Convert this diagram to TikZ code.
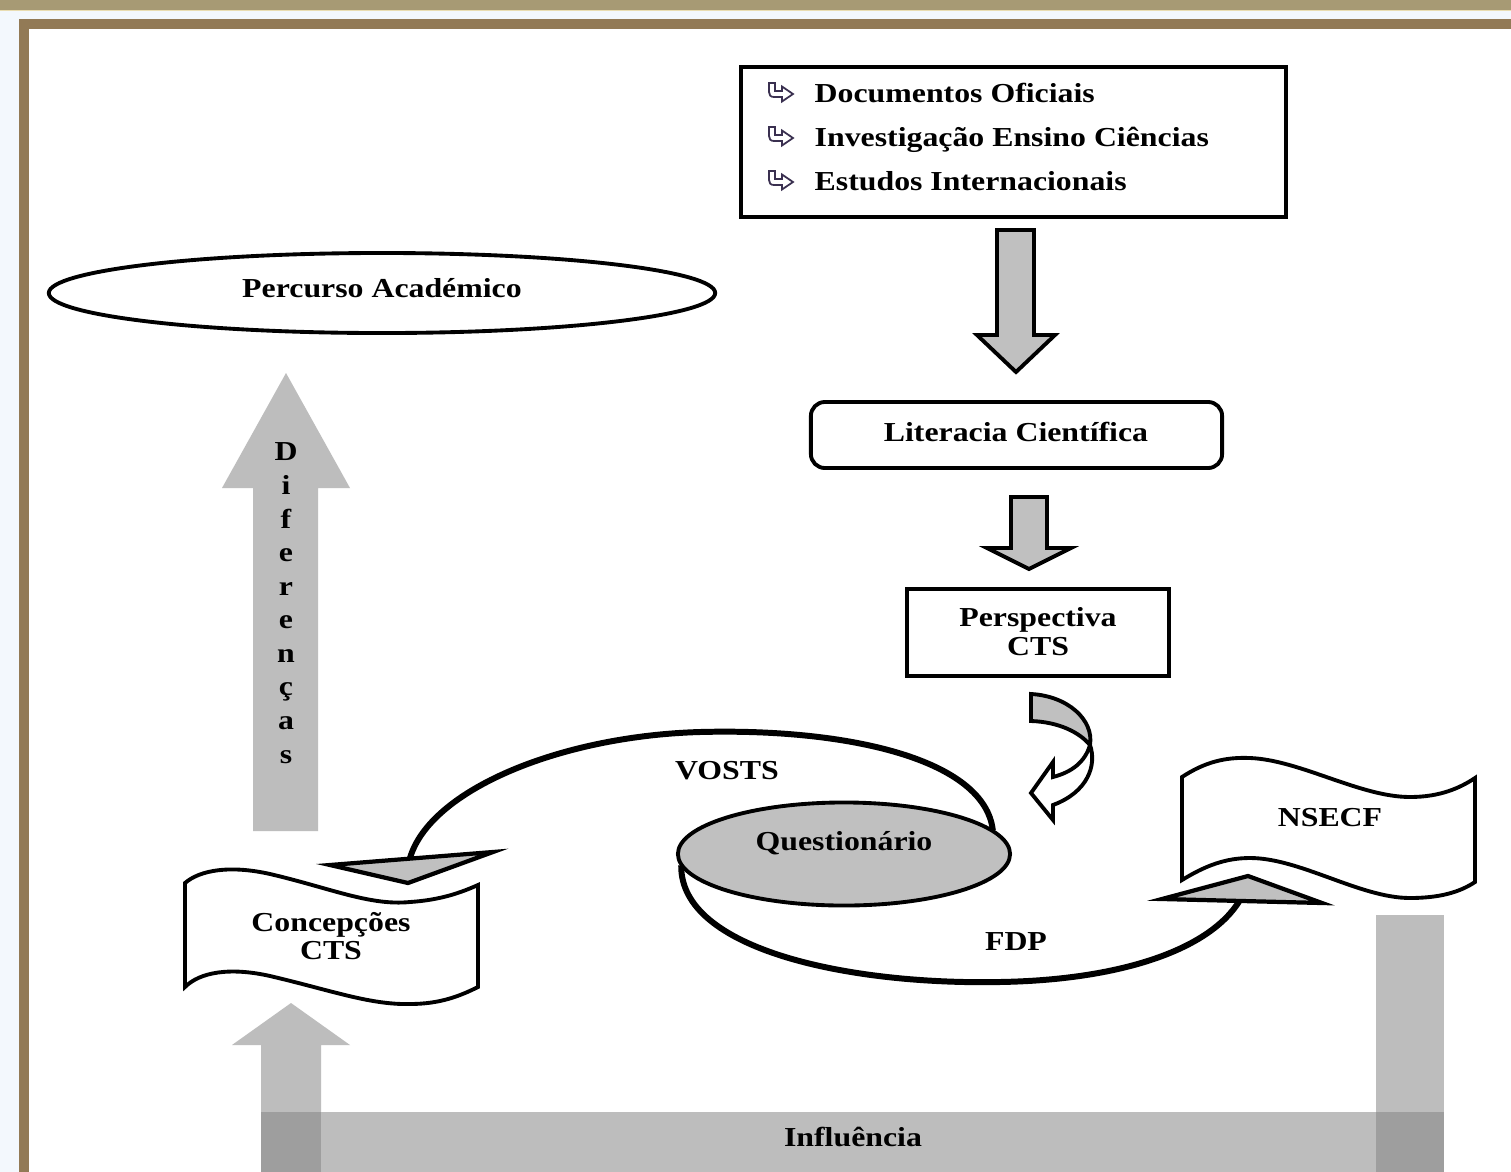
\documentclass[tikz,border=0pt]{standalone}
\usepackage{fontspec}
\setmainfont{Liberation Serif}[FakeStretch=1.16]
\usetikzlibrary{shapes.geometric}
\definecolor{tanband}{HTML}{A79A74}
\definecolor{lightyel}{HTML}{E9DDB2}
\definecolor{paleblue}{HTML}{F3F8FD}
\definecolor{framebrown}{HTML}{927A56}
\definecolor{boxgray}{HTML}{C0C0C0}
\definecolor{lightbar}{HTML}{BDBDBD}
\definecolor{darkbar}{HTML}{9E9E9E}
\definecolor{bulletink}{HTML}{3A3050}
\tikzset{
  lbl/.style={font=\fontsize{7.8pt}{9.4pt}\selectfont\bfseries, inner sep=0pt, anchor=base},
  blockarrow/.style={fill=boxgray, draw=black, line width=1.1pt, line join=miter},
  looparc/.style={draw=black, line width=1.7pt},
  tipshape/.style={fill=boxgray, draw=black, line width=1.2pt, line join=miter},
  bannershape/.style={fill=white, draw=black, line width=1.1pt},
  hookbullet/.pic={
    \draw[bulletink, fill=white, line width=0.5pt, line join=miter]
      (0,0) -- (6,0) -- (6,8) -- (13,8) -- (13,3.5) -- (24,11) -- (13,18.5) -- (13,14) -- (5,14)
      .. controls (1.5,14) and (0,12) .. (0,9) -- cycle;
  }
}
\begin{document}
\begin{tikzpicture}[x=0.01cm, y=-0.01cm]
\useasboundingbox (0,0) rectangle (1511,1172);
% background and frame
\fill[paleblue] (0,0) rectangle (1511,1172);
\fill[tanband] (0,0) rectangle (1511,9.5);
\fill[lightyel] (0,9.5) rectangle (1511,11);
\fill[white] (28.7,28.7) rectangle (1511,1172);
\fill[framebrown] (19.3,19.3) rectangle (1511,28.7);
\fill[framebrown] (19.3,19.3) rectangle (28.7,1172);

% bottom influence bars
\fill[lightbar] (261,1172) -- (261,1045) -- (232,1045) -- (291,1003) -- (350,1045) -- (321,1045) -- (321,1172) -- cycle;
\fill[lightbar] (1376,915) rectangle (1444,1172);
\fill[lightbar] (261,1112) rectangle (1444,1172);
\fill[darkbar] (261,1112) rectangle (321,1172);
\fill[darkbar] (1376,1112) rectangle (1444,1172);
\node[lbl] (influ) at (853,1146) {Influência};

% Diferencas arrow
\fill[lightbar] (253,831) -- (253,488) -- (222,488) -- (286,373) -- (350,488) -- (318,488) -- (318,831) -- cycle;
\foreach \ch/\yy [count=\k] in {D/460, i/494, f/528, e/561, r/595, e/628, n/662, ç/695, a/729, s/763}
  \node[lbl] (dif\k) at (286,\yy) {\ch};

% top box
\node[draw, line width=1.3pt, minimum width=5.45cm, minimum height=1.5cm, inner sep=0pt] (sources) at (1013.5,142) {};
\pic at (769,83) {hookbullet};
\pic at (769,127) {hookbullet};
\pic at (769,171) {hookbullet};
\node[lbl, anchor=base west] (doc1) at (814,102) {Documentos Oficiais};
\node[lbl, anchor=base west] (doc2) at (814,146) {Investigação Ensino Ciências};
\node[lbl, anchor=base west] (doc3) at (814,190) {Estudos Internacionais};

% block arrow 1
\draw[blockarrow] (997,230) -- (1034,230) -- (1034,335) -- (1055,335) -- (1016,372) -- (977,335) -- (997,335) -- cycle;

% Literacia
\node[draw, line width=1.1pt, rounded corners=0.14cm, minimum width=4.11cm, minimum height=0.66cm, inner sep=0pt] (literacia) at (1016.5,435) {};
\node[lbl] (literaciatxt) at (1016,441) {Literacia Científica};

% block arrow 2
\draw[blockarrow] (1011,497) -- (1047,497) -- (1047,548) -- (1071,548) -- (1029,569) -- (987,548) -- (1011,548) -- cycle;

% Perspectiva
\node[draw, line width=1.1pt, minimum width=2.62cm, minimum height=0.87cm, inner sep=0pt] (persp) at (1038,632.5) {};
\node[lbl] (persptxt1) at (1038,626) {Perspectiva};
\node[lbl] (persptxt2) at (1038,655) {CTS};

% U-turn arrow
\draw[fill=white, line width=1.1pt, line join=miter]
  (1090,745) .. controls (1097,765) and (1088,792) .. (1053,805) -- (1053,820) -- (1031,793) -- (1053,762) -- (1053,777)
  .. controls (1072,772) and (1085,762) .. (1090,745) -- cycle;
\draw[fill=boxgray, line width=1.1pt, line join=miter]
  (1031,694) .. controls (1068,696) and (1094,720) .. (1090,745)
  .. controls (1080,733) and (1060,722) .. (1031,721) -- cycle;

% Percurso Academico
\node[ellipse, draw, line width=1.1pt, fill=white, minimum width=6.66cm, minimum height=0.8cm, inner sep=0pt] (percurso) at (382,293) {};
\node[lbl] (percursotxt) at (382,297) {Percurso Académico};

% banners
\draw[bannershape] (185,883) .. controls (200,870) and (230,865) .. (270,874)
  .. controls (330,888) and (370,906) .. (410,902) .. controls (440,900) and (460,893) .. (478,885)
  -- (478,987) .. controls (460,996) and (440,1004) .. (410,1004)
  .. controls (370,1005) and (330,990) .. (270,976) .. controls (230,967) and (200,972) .. (185,987) -- cycle;
\node[lbl] (concep1) at (331,931) {Concepções};
\node[lbl] (concep2) at (331,959) {CTS};

\draw[bannershape] (1182,777) .. controls (1205,762) and (1225,757) .. (1250,758)
  .. controls (1300,760) and (1360,797) .. (1410,797) .. controls (1440,797) and (1460,788) .. (1475,778)
  -- (1475,882) .. controls (1460,892) and (1440,898) .. (1410,898)
  .. controls (1360,898) and (1300,858) .. (1250,858) .. controls (1225,858) and (1205,866) .. (1182,880) -- cycle;
\node[lbl] (nsecf) at (1330,826) {NSECF};

% loop around questionario
\coordinate (vostsend) at (410,858);
\coordinate (fdpend) at (1240,900);
\node[ellipse, minimum width=3.32cm, minimum height=1.03cm, inner sep=0pt] (quest) at (844,854) {};
\draw[looparc] (quest.9) .. controls (985,760) and (850,728) .. (700,732) .. controls (560,736) and (430,790) .. (vostsend);
\draw[looparc] (quest.184) .. controls (680,950) and (850,985) .. (1000,982) .. controls (1120,980) and (1210,950) .. (fdpend);
\node[ellipse, draw, line width=1.1pt, fill=boxgray, minimum width=3.32cm, minimum height=1.03cm, inner sep=0pt] (questfill) at (844,854) {};
\node[lbl] (questtxt) at (844,850) {Questionário};
\node[lbl] (vosts) at (727,779) {VOSTS};
\node[lbl] (fdp) at (1016,950) {FDP};

% arrow tips
\draw[tipshape] (330,865) -- (493,852) -- (408,883) -- cycle;
\draw[tipshape] (1162,899) -- (1248,876) -- (1322,903) -- cycle;
\end{tikzpicture}
\end{document}
